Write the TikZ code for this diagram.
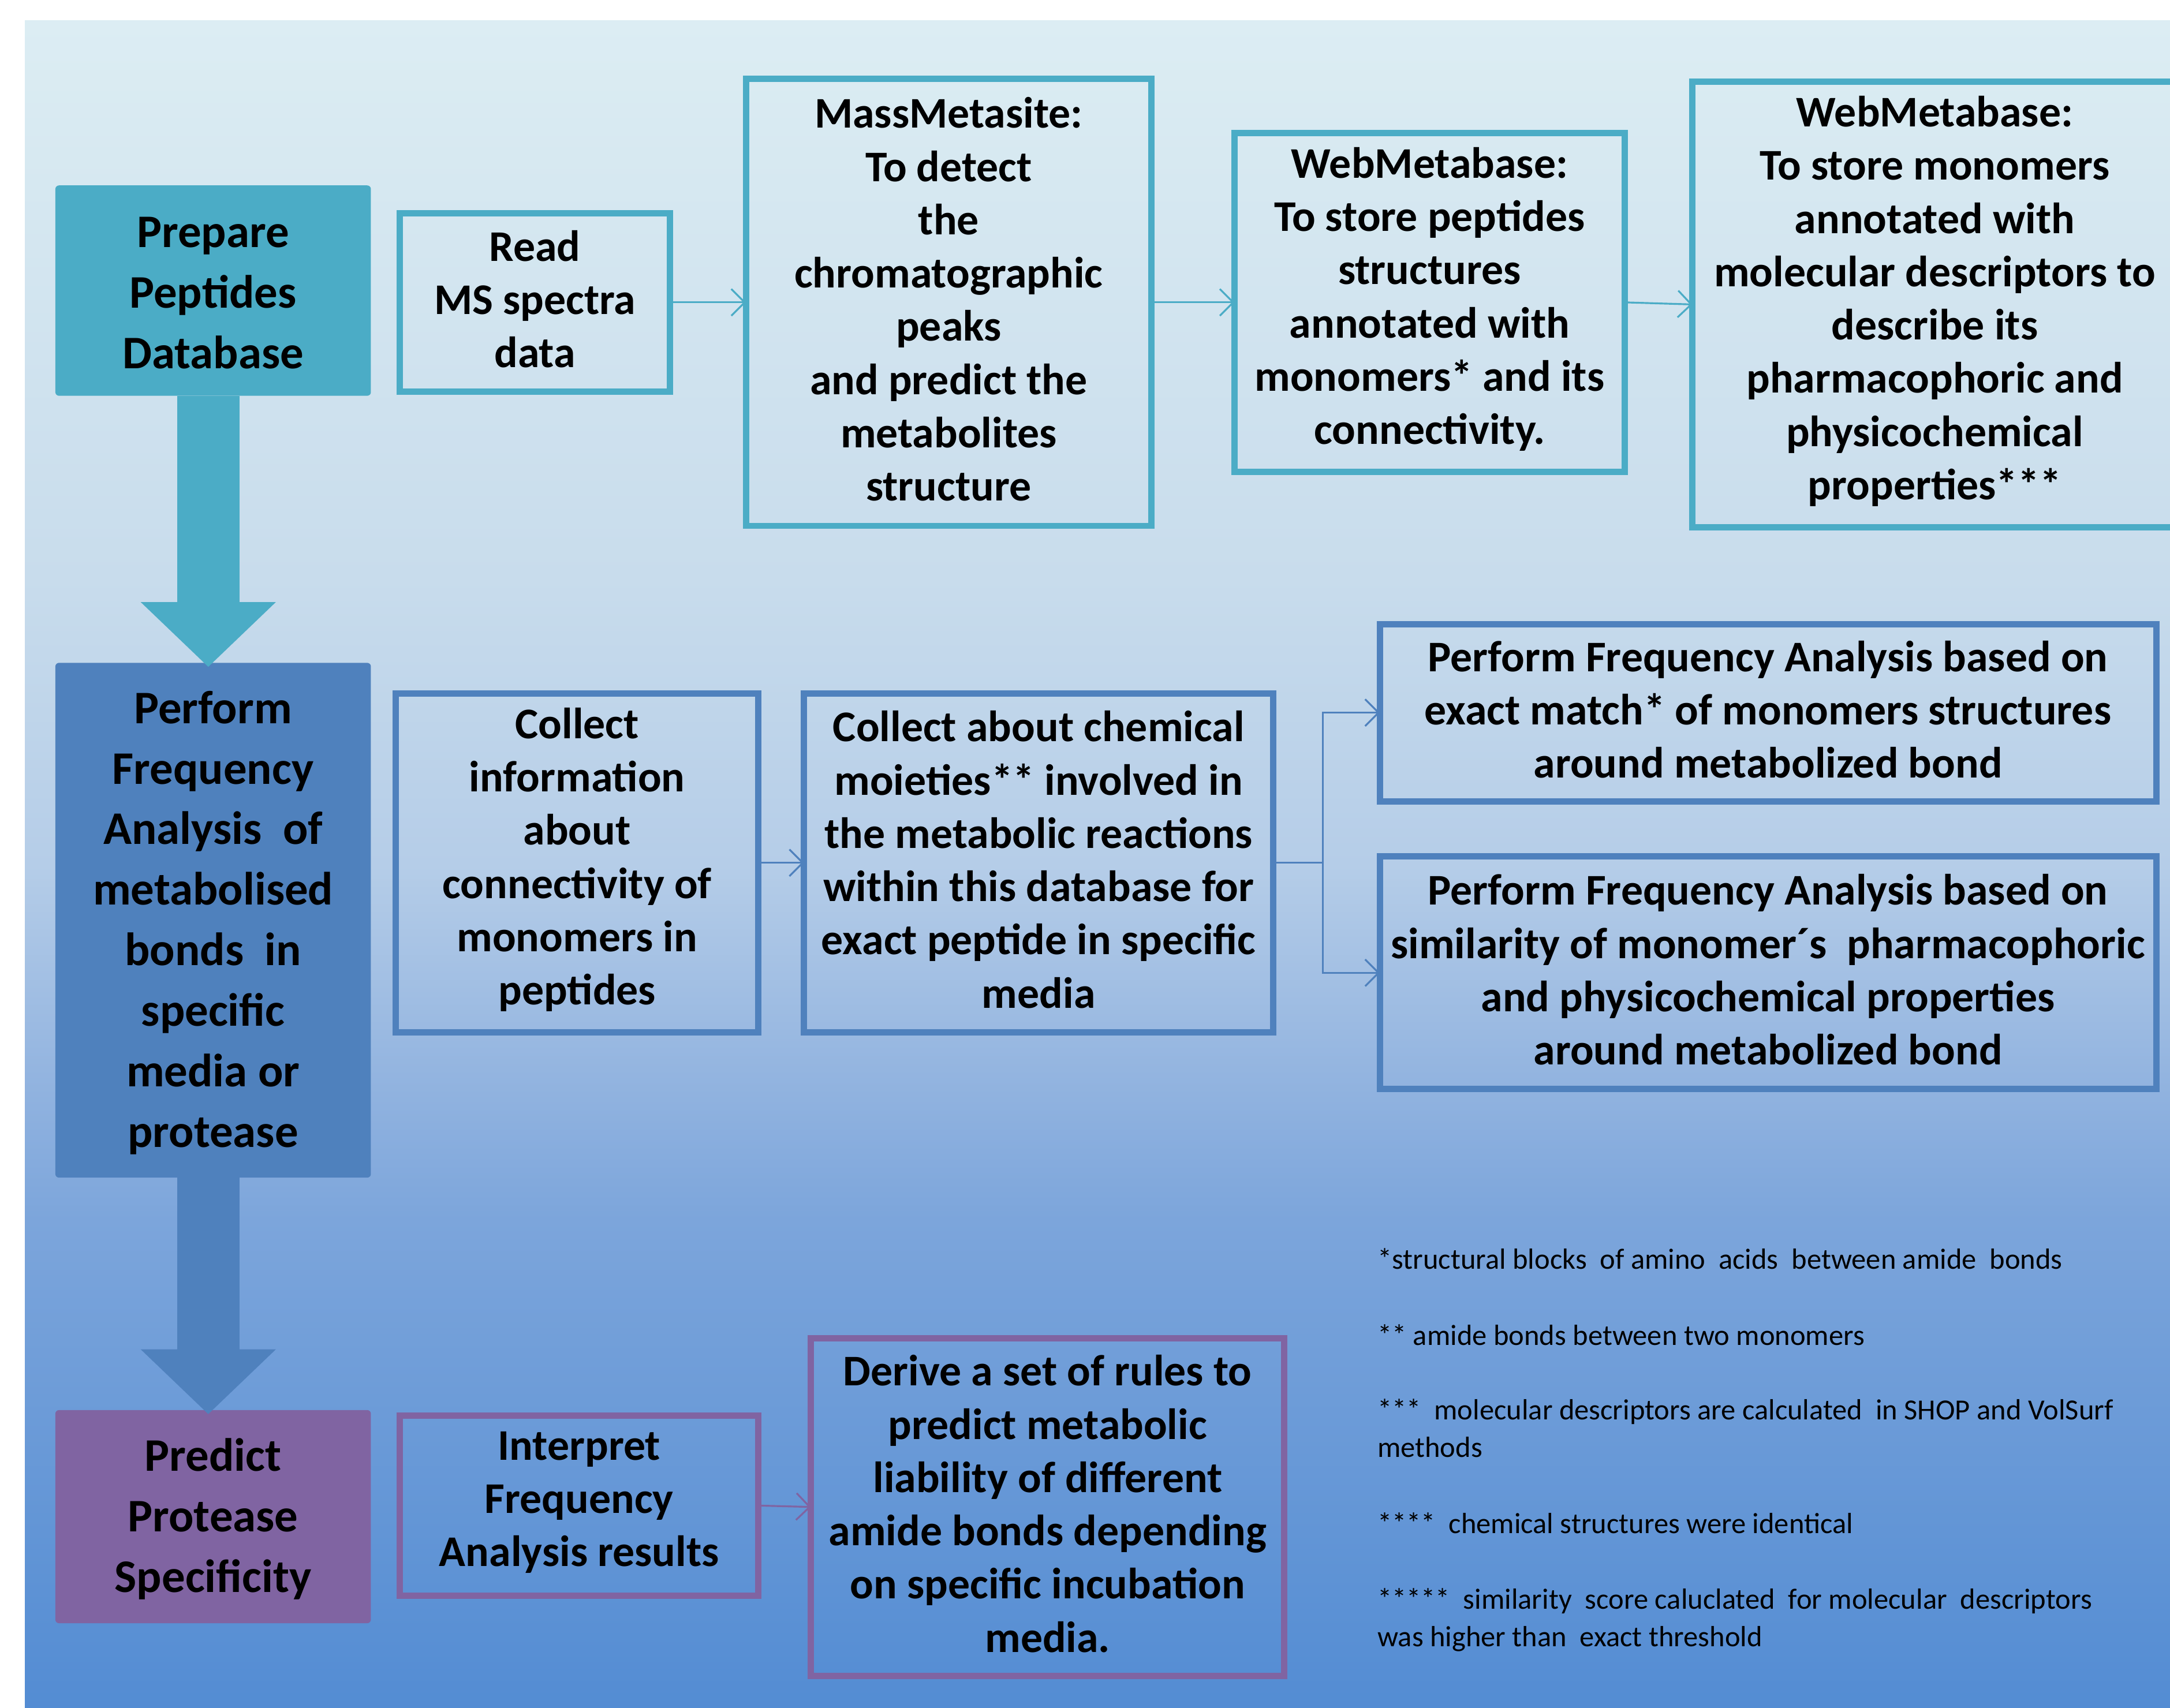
\documentclass[tikz,border=0pt]{standalone}
\usepackage{fontspec}
\setmainfont{Carlito}
\usetikzlibrary{arrows.meta,fit,calc}
\definecolor{tealc}{HTML}{4BACC6}
\definecolor{bluec}{HTML}{4F81BD}
\definecolor{purpc}{HTML}{8064A2}
\definecolor{bgtop}{HTML}{DCEDF3}
\definecolor{bga}{HTML}{C8DCEC}
\definecolor{bgb}{HTML}{B5CDE8}
\definecolor{bgc}{HTML}{94B5E0}
\definecolor{bgd}{HTML}{7CA5DB}
\definecolor{bgbot}{HTML}{538CD3}
\pgfdeclareverticalshading{bgshade}{100bp}{color(0bp)=(bgbot); color(25bp)=(bgbot); color(39.5bp)=(bgd); color(44bp)=(bgc); color(50bp)=(bgb); color(58.5bp)=(bga); color(75bp)=(bgtop); color(100bp)=(bgtop)}
\tikzset{
  fbox/.style={inner sep=0pt, outer sep=0pt, line width=2.6pt},
  btext/.style={inner sep=0pt, align=center, yshift=1.3pt,
    font=\bfseries\fontsize{18}{21.9}\selectfont},
  lbox/.style={inner sep=0pt, outer sep=0pt, rounded corners=1.5pt},
  ltext/.style={inner sep=0pt, align=center, yshift=-1pt,
    font=\bfseries\fontsize{19.2}{24.9}\selectfont},
  conn/.style={line width=0.75pt, -{Straight Barb[length=5.5pt,width=11pt]}},
  bigarrow/.style={line width=25.6pt, -{Triangle[length=26.7pt,width=54pt]}},
  note/.style={anchor=base west, align=left, inner sep=0pt,
    font=\fontsize{12}{15.4}\selectfont}
}
\begin{document}
\begin{tikzpicture}[x=0.02cm,y=-0.02cm]
\useasboundingbox (0,0) rectangle (1568,1234);
\fill[white] (0,0) rectangle (1568,1234);
\fill[shading=bgshade] (18,15) rectangle (1570,1236);

% left column
\node[lbox, fill=tealc, fit={(40,134) (268,286)}] (prep) {};
\node[ltext] (prept) at (prep.center) {Prepare\\Peptides\\Database};
\node[lbox, fill=bluec, fit={(40,479) (268,851)}] (perf) {};
\node[ltext] (perft) at (perf.center) {Perform\\Frequency\\Analysis\ \ of\\metabolised\\bonds\ \ in\\specific\\media or\\protease};
\node[lbox, fill=purpc, fit={(40,1019) (268,1173)}] (pred) {};
\node[ltext] (predt) at (pred.center) {Predict\\Protease\\Specificity};
\draw[bigarrow, tealc] ($(prep.south)+(-3.5,0)$) -- ($(perf.north)+(-3.5,3)$);
\draw[bigarrow, bluec] ($(perf.south)+(-3.5,0)$) -- ($(pred.north)+(-3.5,3)$);

% row 1
\node[fbox, draw=tealc, fit={(289,154) (484,283)}] (read) {};
\node[btext] (readt) at (read.center) {Read\\MS spectra\\data};
\node[fbox, draw=tealc, fit={(539,57) (832,380)}] (mass) {};
\node[btext] (masst) at (mass.center) {MassMetasite:\\To detect\\the\\chromatographic\\peaks\\and predict the\\metabolites\\structure};
\node[fbox, draw=tealc, fit={(892,96) (1174,341)}] (wm1) {};
\node[btext] (wm1t) at (wm1.center) {WebMetabase:\\To store peptides\\structures\\annotated with\\monomers* and its\\connectivity.};
\node[fbox, draw=tealc, fit={(1223,59) (1573,381)}] (wm2) {};
\node[btext] (wm2t) at (wm2.center) {WebMetabase:\\To store monomers\\annotated with\\molecular descriptors to\\describe its\\pharmacophoric and\\physicochemical\\properties***};
\draw[conn, tealc] (read.east) -- (mass.west);
\draw[conn, tealc] (mass.east) -- (wm1.west);
\draw[conn, tealc] (wm1.east) -- (wm2.west);

% row 2
\node[fbox, draw=bluec, fit={(286,501) (548,746)}] (info) {};
\node[btext] (infot) at (info.center) {Collect\\information\\about\\connectivity of\\monomers in\\peptides};
\node[fbox, draw=bluec, fit={(581,501) (920,746)}] (chem) {};
\node[btext] (chemt) at (chem.center) {Collect about chemical\\moieties** involved in\\the metabolic reactions\\within this database for\\exact peptide in specific\\media};
\node[fbox, draw=bluec, fit={(997,451) (1558,579)}] (exact) {};
\node[btext] (exactt) at (exact.center) {Perform Frequency Analysis based on\\exact match* of monomers structures\\around metabolized bond};
\node[fbox, draw=bluec, fit={(997,619) (1558,787)}] (sim) {};
\node[btext] (simt) at (sim.center) {Perform Frequency Analysis based on\\similarity of monomer´s\ \ pharmacophoric\\and physicochemical properties\\around metabolized bond};
\draw[conn, bluec] (info.east) -- (chem.west);
\draw[conn, bluec] (chem.east) -- ++(36,0) coordinate (split) |- (exact.west);
\draw[conn, bluec] (split) |- (sim.west);

% row 3
\node[fbox, draw=purpc, fit={(289,1023) (548,1153)}] (interp) {};
\node[btext] (interpt) at (interp.center) {Interpret\\Frequency\\Analysis results};
\node[fbox, draw=purpc, fit={(586,967) (928,1211)}] (derive) {};
\node[btext] (derivet) at (derive.center) {Derive a set of rules to\\predict metabolic\\liability of different\\amide bonds depending\\on specific incubation\\media.};
\draw[conn, purpc] (interp.east) -- (derive.west);

% notes
\node[note] (n1) at (995,917) {*structural blocks\ \ of amino\ \ acids\ \ between amide\ \ bonds};
\node[note] (n2) at (995,972) {** amide bonds between two monomers};
\node[note] (n3) at (995,1053) {***\ \ molecular descriptors are calculated\ \ in SHOP and VolSurf\\methods};
\node[note] (n4) at (995,1108) {****\ \ chemical structures were identical};
\node[note] (n5) at (995,1190) {*****\ \ similarity\ \ score caluclated\ \ for molecular\ \ descriptors\\was higher than\ \ exact threshold};
\end{tikzpicture}
\end{document}
